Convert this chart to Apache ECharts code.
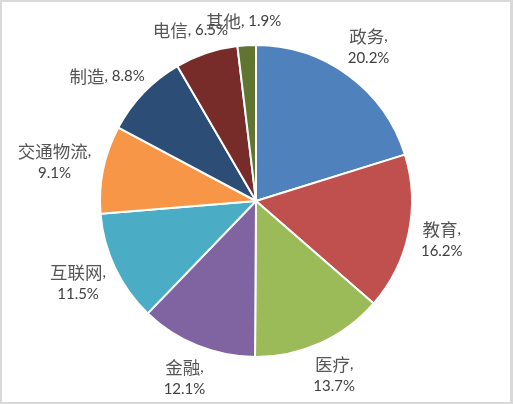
<!DOCTYPE html>
<html>
<head>
<meta charset="utf-8">
<script src="https://cdn.jsdelivr.net/npm/echarts@6/dist/echarts.min.js"></script>
<style>
    body{margin:0;background:#d9d9d9;width:513px;height:404px;overflow:hidden;}
    #chart{position:absolute;left:2px;top:2px;width:508px;height:400px;background:#fff;}
</style>
</head>
<body>
<div id="chart"></div>
<script>
//    行业分布数据
var categories=['政务','教育','医疗','金融','互联网','交通物流','制造','电信','其他'];
var values=[20.2,16.2,13.7,12.1,11.5,9.1,8.8,6.5,1.9];
//    这几项标签换行显示
var wrapNames=['政务','教育','医疗','金融','互联网','交通物流'];
var colors=['#4F81BD','#C0504D','#9BBB59','#8064A2','#4BACC6','#F79646','#2C4D75','#772C2A','#5F7530'];

var cx=254,cy=199,R=156,gap=13;
var total=values.reduce(function(a,b){return a+b;},0);

var mychart=echarts.init(document.getElementById('chart'));
var option={
    backgroundColor:'#fff',
    color:colors,
    series:[{
        type:'pie',
        center:[cx,cy],
        radius:R,
        startAngle:90,
        clockwise:true,
        avoidLabelOverlap:false,
        animation:false,
        itemStyle:{borderColor:'#fff',borderWidth:2},
        label:{
            show:true,
            position:'outside',
            color:'#404040',
            fontSize:15,
            lineHeight:22,
            fontFamily:'Lato, sans-serif',
            formatter:function(p){
                var sep=wrapNames.indexOf(p.name)>=0?',\n':', ';
                return '{c|'+p.name+'}{n|'+sep+p.value.toFixed(1)+'%}';
            },
            rich:{
                c:{fontSize:17.5,lineHeight:22,color:'#555',fontFamily:'"Noto Sans CJK SC", sans-serif'},
                n:{fontSize:15,lineHeight:22,color:'#404040',fontFamily:'Lato, sans-serif'}
            }
        },
        labelLine:{show:false},
        //    标签放在扇区外侧，类似 Excel 的“数据标签外”
        labelLayout:function(params){
            var i=params.dataIndex;
            var before=0;
            for(var k=0;k<i;k++){before+=values[k];}
            var a=(before+values[i]/2)/total*Math.PI*2;
            var ux=Math.sin(a),uy=-Math.cos(a);
            var w=params.labelRect.width,h=params.labelRect.height;
            return {
                x:cx+(R+gap)*ux+ux*w/2,
                y:cy+(R+gap)*uy+uy*h/2,
                align:'center',
                verticalAlign:'middle'
            };
        },
        data:categories.map(function(name,i){return {name:name,value:values[i]};})
    }]
};
mychart.setOption(option);
</script>
</body>
</html>
